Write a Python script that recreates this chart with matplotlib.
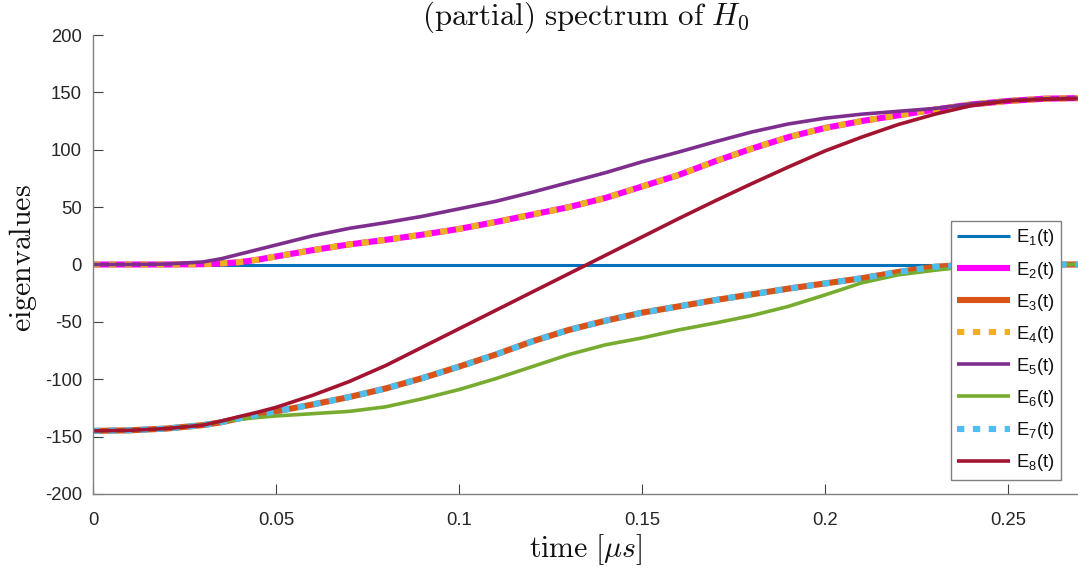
import matplotlib
matplotlib.use("Agg")
import matplotlib.pyplot as plt
import numpy as np

plt.rcParams['font.family'] = ['Liberation Sans', 'DejaVu Sans']
plt.rcParams['mathtext.fontset'] = 'custom'
plt.rcParams['mathtext.rm'] = 'Liberation Sans'
plt.rcParams['mathtext.it'] = 'Liberation Sans:italic'
plt.rcParams['axes.unicode_minus'] = False

# time in microseconds
t = [0, 0.01, 0.02, 0.03, 0.035, 0.04, 0.045, 0.05, 0.06, 0.07, 0.08, 0.09, 0.10, 0.11, 0.12, 0.13,
     0.14, 0.15, 0.16, 0.17, 0.18, 0.19, 0.20, 0.21, 0.22, 0.23, 0.24, 0.25, 0.26, 0.269]

E1 = [0] * len(t)
E2 = [0, 0, 0, 0.3, 0.9, 2, 4.2, 7, 12.5, 17.5, 21.5, 26, 31, 37, 43.5, 50,
      58, 68, 78, 90, 101, 111, 119, 125, 130, 135, 139.5, 142.5, 144.5, 145]
E3 = [-145, -144.5, -143, -140, -137.5, -134, -131, -128, -122, -115.5, -108, -99, -89, -78.5, -67, -57,
      -49, -42, -36.5, -31, -26, -21, -16.5, -12, -6.5, -2, 0, 0, 0, 0]
E4 = list(E2)
E5 = [0, 0, 0.4, 2.2, 5.0, 9, 13, 17, 25, 31.5, 36.5, 42, 48.5, 55, 63, 71.5,
      80, 89.5, 98, 107, 115.5, 122.5, 127.5, 131, 133.5, 136, 140, 143, 144.5, 145]
E6 = [-145, -144.5, -143, -139.5, -137, -135, -133.3, -132, -130, -128, -124, -117, -109, -99.5, -89, -78.5,
      -70, -64, -57, -51, -44.5, -36.5, -26.5, -16, -9, -5, -1.5, 0, 0, 0]
E7 = list(E3)
E8 = [-145, -144.5, -143, -140, -136.5, -132.5, -128.7, -124.5, -114, -102, -88, -72, -56, -40, -24, -8,
      8, 24, 40, 55.5, 70.5, 85, 99, 111, 122, 131, 138.5, 142.5, 144, 144.5]

series = [E1, E2, E3, E4, E5, E6, E7, E8]
labels = [r'E$_{%d}$(t)' % (i + 1) for i in range(8)]
colors = ['#0072BD', '#FF00FF', '#D95319', '#EDB120', '#7E2F8E', '#77AC30', '#4DBEEE', '#A2142F']
widths = [2.2, 4.4, 4.4, 4.4, 2.6, 2.6, 4.4, 2.6]
dotted = [False, False, False, True, False, False, True, False]

fig = plt.figure(figsize=(10.78, 5.70), dpi=100)
ax = fig.add_axes([93 / 1078, 76 / 570, 985 / 1078, 459 / 570])

for y, lab, c, w, d in zip(series, labels, colors, widths, dotted):
    line, = ax.plot(t, y, color=c, lw=w, label=lab, solid_capstyle='butt',
                    solid_joinstyle='round')
    if d:
        line.set_dashes((1.2, 1.4))
        line.set_dash_capstyle('butt')

ax.set_xlim(0, 0.2691)
ax.set_ylim(-200, 200)
ax.set_xticks([0, 0.05, 0.1, 0.15, 0.2, 0.25])
ax.set_xticklabels(['0', '0.05', '0.1', '0.15', '0.2', '0.25'])
ax.set_yticks(np.arange(-200, 201, 50))

ax.spines['top'].set_visible(False)
ax.spines['right'].set_visible(False)
for s in ['left', 'bottom']:
    ax.spines[s].set_color('#808080')
    ax.spines[s].set_linewidth(1.0)
ax.tick_params(direction='in', length=7, width=0.8, color='#404040',
               labelsize=13.3, labelcolor='#262626')
ax.tick_params(axis='x', pad=13)
ax.tick_params(axis='y', pad=8)

ax.set_title(r'$\mathrm{(partial)\ spectrum\ of\ }H_0$', fontsize=22.3,
             math_fontfamily='cm', color='#111111', pad=6)
ax.set_xlabel(r'$\mathrm{time\ [}\mu s\mathrm{]}$', fontsize=21.5,
              math_fontfamily='cm', color='#111111', labelpad=2)
ax.set_ylabel(r'$\mathrm{eigenvalues}$', fontsize=21.5,
              math_fontfamily='cm', color='#111111')
ax.yaxis.set_label_coords(-0.055, 0.515)

leg = ax.legend(loc='upper left', bbox_to_anchor=(951 / 1078, 1 - 221 / 570),
                bbox_transform=fig.transFigure, fontsize=13.3, frameon=True,
                fancybox=False, framealpha=1, edgecolor='#808080',
                handlelength=2.85, handletextpad=0.3, labelspacing=0.6,
                borderpad=0.35, borderaxespad=0)
leg.get_frame().set_linewidth(1.0)
for txt in leg.get_texts():
    txt.set_color('#111111')

fig.savefig('out.png', dpi=100)
